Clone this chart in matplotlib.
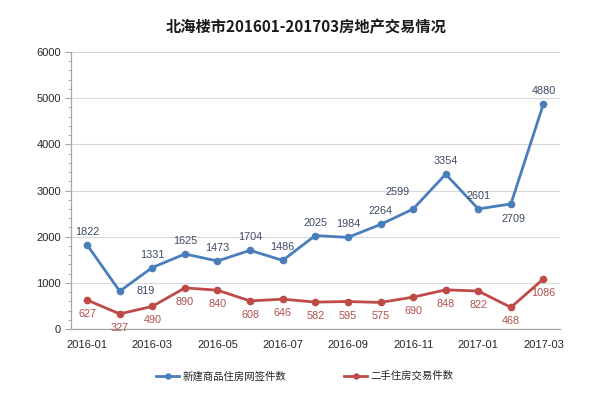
import matplotlib
matplotlib.use("Agg")
import matplotlib.pyplot as plt
from matplotlib.ticker import MultipleLocator

plt.rcParams['font.family'] = ['Liberation Sans', 'Noto Sans CJK SC', 'DejaVu Sans']

months = ['2016-01', '2016-02', '2016-03', '2016-04', '2016-05', '2016-06', '2016-07',
          '2016-08', '2016-09', '2016-10', '2016-11', '2016-12', '2017-01', '2017-02', '2017-03']
new_homes = [1822, 819, 1331, 1625, 1473, 1704, 1486, 2025, 1984, 2264, 2599, 3354, 2601, 2709, 4880]
second_hand = [627, 327, 490, 890, 840, 608, 646, 582, 595, 575, 690, 848, 822, 468, 1086]
series_names = ['新建商品住房网签件数', '二手住房交易件数']
title = '北海楼市201601-201703房地产交易情况'

blue = '#4A7EBB'
red = '#BE4B48'

fig = plt.figure(figsize=(6.0, 3.98), dpi=100)
ax = fig.add_axes([0.118, 0.1734, 0.815, 0.6959])

x = list(range(len(months)))
ax.plot(x, new_homes, color=blue, lw=2.0, marker='o', ms=4.5, label=series_names[0], zorder=3)
ax.plot(x, second_hand, color=red, lw=2.0, marker='o', ms=4.5, label=series_names[1], zorder=3)

ax.set_xlim(-0.5, 14.5)
ax.set_ylim(0, 6000)
ax.yaxis.set_major_locator(MultipleLocator(1000))
ax.yaxis.set_minor_locator(MultipleLocator(200))
ax.set_xticks(x[::2])
ax.set_xticklabels(months[::2])
ax.grid(axis='y', color='#D9D9D9', lw=0.8)
ax.set_axisbelow(True)
for s in ['top', 'right']:
    ax.spines[s].set_visible(False)
for s in ['left', 'bottom']:
    ax.spines[s].set_color('#A6A6A6')
    ax.spines[s].set_linewidth(0.9)
ax.tick_params(axis='x', length=0, labelsize=8, colors='#262626', pad=8)
ax.tick_params(axis='y', which='major', length=4, width=0.8, color='#A6A6A6', labelsize=8, labelcolor='#262626', pad=3)
ax.tick_params(axis='y', which='minor', length=2, width=0.6, color='#A6A6A6')

blue_off = {1: (26, 0), 10: (-16, 17), 13: (3, -15)}
for i, v in enumerate(new_homes):
    dx, dy = blue_off.get(i, (0, 13))
    ax.annotate(str(v), (i, v), xytext=(dx, dy), textcoords='offset pixels',
                ha='center', va='center', fontsize=7.8, color='#3B4A62')
for i, v in enumerate(second_hand):
    dx, dy = (0, -14)
    ax.annotate(str(v), (i, v), xytext=(dx, dy), textcoords='offset pixels',
                ha='center', va='center', fontsize=7.8, color='#B0504D')

fig.text(0.51, 0.932, title, ha='center', va='center', fontsize=11, fontweight='bold',
         family=['Noto Sans CJK SC', 'DejaVu Sans'], color='#1a1a1a')

fig.legend(loc='center', bbox_to_anchor=(0.508, 0.055), ncol=2, frameon=False,
           prop={'family': ['Noto Sans CJK SC', 'DejaVu Sans'], 'size': 7.5},
           handlelength=2.2, handletextpad=0.3, columnspacing=5.6, markerscale=0.8,
           labelcolor='#262626')

fig.savefig('out.png', dpi=100, facecolor='white')
